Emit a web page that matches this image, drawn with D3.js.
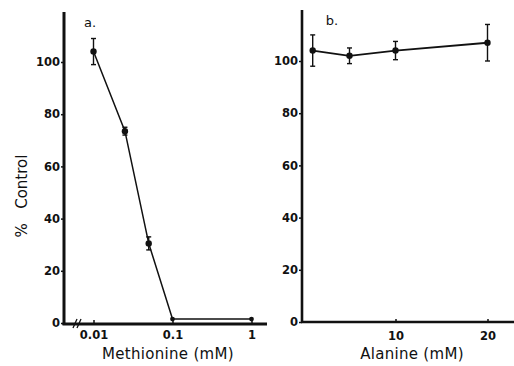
<!DOCTYPE html>
<html>
<head>
<meta charset="utf-8">
<script src="https://cdn.jsdelivr.net/npm/d3@7"></script>
<style>
  body { margin: 0; background: #fff; }
  svg { display: block; }
  text { font-family: "DejaVu Sans", sans-serif; fill: #111; }
  .tick text { font-weight: bold; font-size: 11.5px; }
</style>
</head>
<body>
<svg id="chart" width="514" height="366"></svg>
<script>
/* data */
const methConc = [0.01, 0.025, 0.05, 0.1, 1];
const methPct = [104, 73.5, 30.5, 1.5, 1.5];
const methErr = [5, 1.5, 2.5, 0, 0];
const alaConc = [1, 5, 10, 20];
const alaPct = [104, 102, 104, 107];
const alaErr = [6, 3, 3.5, 7];
const yTicks = [0, 20, 40, 60, 80, 100];
const methTicks = [0.01, 0.1, 1];
const alaTicks = [10, 20];

const svg = d3.select("#chart");
const ink = "#111";

const yScale = d3.scaleLinear().domain([0, 100]).range([323, 62]);
const xMeth = d3.scaleLog().domain([0.01, 1]).range([93.5, 251.5]);
const xAla = d3.scaleLinear().domain([0, 20]).range([303.5, 487.5]);

const tidy = g => {
    g.select(".domain").remove();
    g.selectAll(".tick line").attr("stroke", ink).attr("stroke-width", 1.5);
};

// panel a
const pa = svg.append("g");
pa.append("line").attr("x1", 64).attr("x2", 64).attr("y1", 12).attr("y2", 325)
    .attr("stroke", ink).attr("stroke-width", 3);
pa.append("line").attr("x1", 62.5).attr("x2", 267).attr("y1", 324).attr("y2", 324)
    .attr("stroke", ink).attr("stroke-width", 3);
// axis break
[75, 79].forEach(x => {
    pa.append("line").attr("x1", x - 2).attr("x2", x + 2).attr("y1", 328).attr("y2", 319)
        .attr("stroke", ink).attr("stroke-width", 1.3);
});
pa.append("g").attr("transform", "translate(64,0)")
    .call(d3.axisLeft(yScale).tickValues(yTicks).tickSize(3).tickPadding(1))
    .call(tidy);
pa.append("g").attr("transform", "translate(0,323)")
    .call(d3.axisBottom(xMeth).tickValues(methTicks).tickSize(-3).tickPadding(8)
        .tickFormat(d => d))
    .call(tidy);

// panel b
const pb = svg.append("g");
pb.append("line").attr("x1", 302).attr("x2", 302).attr("y1", 10).attr("y2", 323)
    .attr("stroke", ink).attr("stroke-width", 2.6);
pb.append("line").attr("x1", 301).attr("x2", 514).attr("y1", 322).attr("y2", 322)
    .attr("stroke", ink).attr("stroke-width", 2.6);
pb.append("g").attr("transform", "translate(302,-1)")
    .call(d3.axisLeft(yScale).tickValues(yTicks).tickSize(3).tickPadding(1))
    .call(tidy);
pb.append("g").attr("transform", "translate(0,322)")
    .call(d3.axisBottom(xAla).tickValues(alaTicks).tickSize(-3).tickPadding(10))
    .call(tidy);

// series
function series(g, xs, ys, errs, xScale, dy, lw) {
    const pts = xs.map((x, i) => ({ x: x, y: ys[i], e: errs[i] }));
    const yy = v => yScale(v) + dy;
    g.append("path").datum(pts)
        .attr("fill", "none").attr("stroke", ink).attr("stroke-width", lw)
        .attr("d", d3.line().x(d => xScale(d.x)).y(d => yy(d.y)));
    const eb = g.selectAll(".err").data(pts.filter(d => d.e > 0)).enter().append("g");
    eb.append("line")
        .attr("x1", d => xScale(d.x)).attr("x2", d => xScale(d.x))
        .attr("y1", d => yy(d.y + d.e)).attr("y2", d => yy(d.y - d.e))
        .attr("stroke", ink).attr("stroke-width", 1.4);
    [1, -1].forEach(s => {
        eb.append("line")
            .attr("x1", d => xScale(d.x) - 2.5).attr("x2", d => xScale(d.x) + 2.5)
            .attr("y1", d => yy(d.y + s * d.e)).attr("y2", d => yy(d.y + s * d.e))
            .attr("stroke", ink).attr("stroke-width", 1.4);
    });
    g.selectAll(".pt").data(pts).enter().append("circle")
        .attr("cx", d => xScale(d.x)).attr("cy", d => yy(d.y))
        .attr("r", d => d.e > 0 || g === pb ? 3.2 : 2.4).attr("fill", ink);
}
series(pa, methConc, methPct, methErr, xMeth, 0, 1.5);
series(pb, alaConc, alaPct, alaErr, xAla, -1, 1.8);

// labels
svg.append("text").attr("x", 90).attr("y", 27).attr("text-anchor", "middle")
    .style("font-size", "13px").text("a.");
svg.append("text").attr("x", 332).attr("y", 25).attr("text-anchor", "middle")
    .style("font-size", "13px").text("b.");
svg.append("text").attr("transform", "translate(27,196) rotate(-90)")
    .attr("text-anchor", "middle").attr("xml:space", "preserve")
    .style("font-size", "15px").style("white-space", "pre").text("%   Control");
svg.append("text").attr("x", 168).attr("y", 359).attr("text-anchor", "middle")
    .style("font-size", "15px").style("letter-spacing", "0.3px").text("Methionine (mM)");
svg.append("text").attr("x", 412).attr("y", 359).attr("text-anchor", "middle")
    .style("font-size", "15px").style("letter-spacing", "0.3px").text("Alanine (mM)");
</script>
</body>
</html>
